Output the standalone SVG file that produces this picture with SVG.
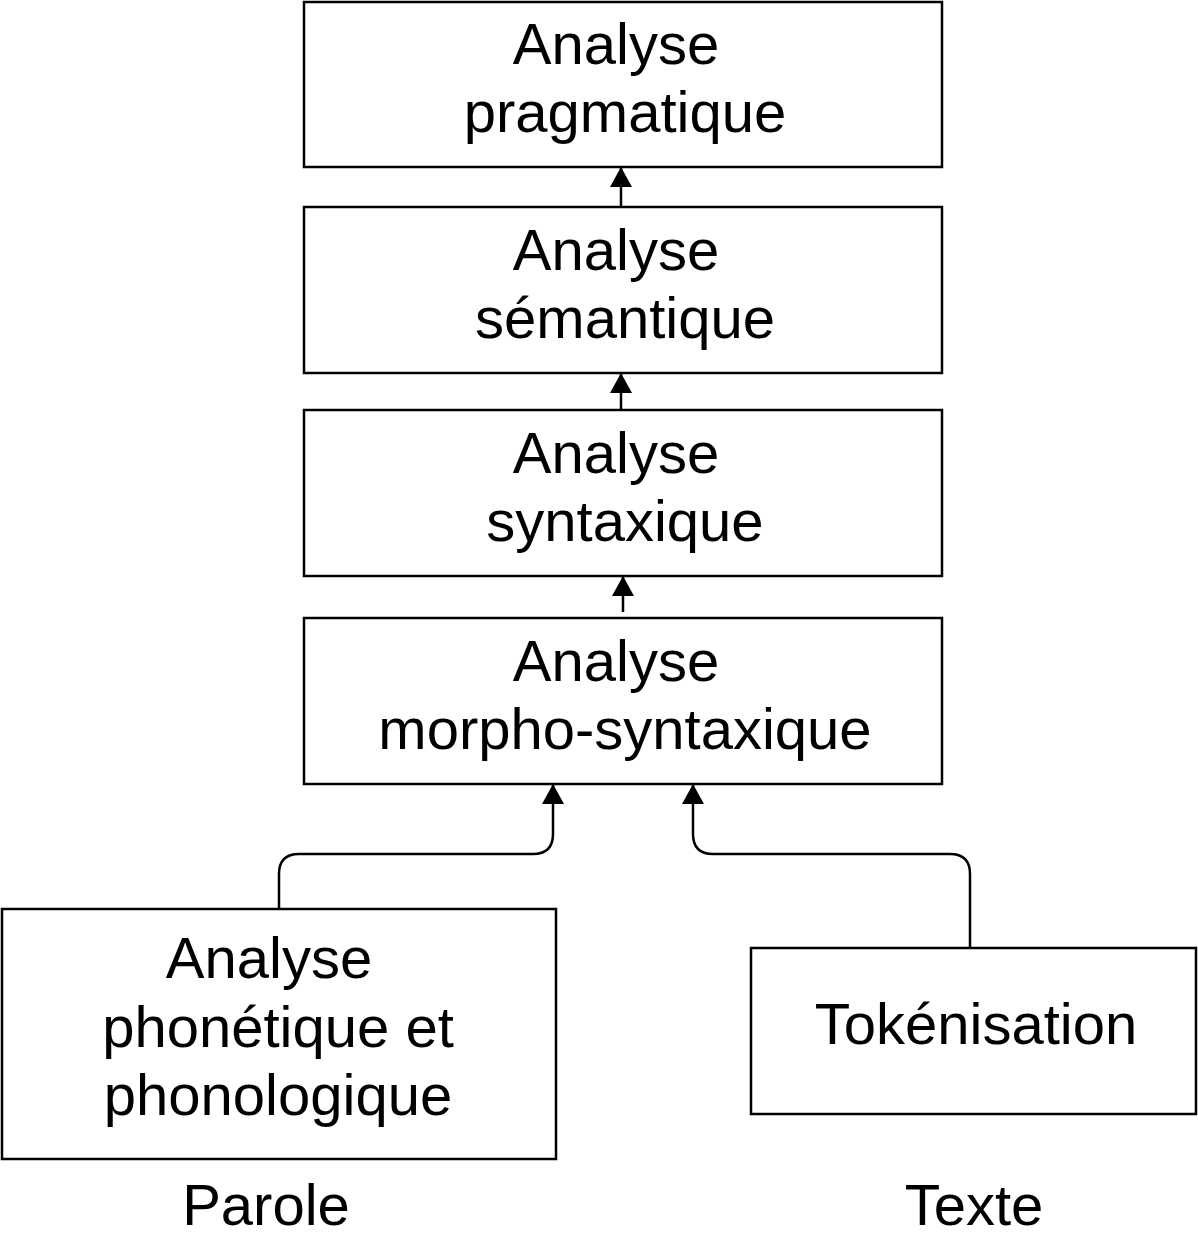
<svg xmlns="http://www.w3.org/2000/svg" width="1198" height="1248" viewBox="0 0 1198 1248">
<style>
.box{fill:#fff;stroke:#000;stroke-width:2.5}
.t{font-family:"Liberation Sans",Arial,Helvetica,sans-serif;font-size:58px;fill:#000;text-anchor:middle}
.c{fill:none;stroke:#000;stroke-width:2.5}
</style>
<defs>
<marker id="ah" markerUnits="userSpaceOnUse" markerWidth="24" markerHeight="24" viewBox="0 0 24 24" refX="20" refY="12" orient="auto">
<path d="M0,1 L20,12 L0,23 Z" fill="#000"/>
</marker>
</defs>
<rect width="1198" height="1248" fill="#fff"/>
<g id="pragmatique">
<rect class="box" x="304" y="2" width="638" height="165"/>
<text class="t" x="616" y="64">Analyse</text>
<text class="t" x="625" y="132">pragmatique</text>
</g>
<g id="semantique">
<rect class="box" x="304" y="207" width="638" height="166"/>
<text class="t" x="616" y="270">Analyse</text>
<text class="t" x="625" y="338">sémantique</text>
</g>
<g id="syntaxique">
<rect class="box" x="304" y="410" width="638" height="166"/>
<text class="t" x="616" y="473">Analyse</text>
<text class="t" x="625" y="541">syntaxique</text>
</g>
<g id="morpho">
<rect class="box" x="304" y="618" width="638" height="166"/>
<text class="t" x="616" y="681">Analyse</text>
<text class="t" x="625" y="749">morpho-syntaxique</text>
</g>
<g id="phonetique">
<rect class="box" x="2" y="909" width="554" height="250"/>
<text class="t" x="269" y="978">Analyse</text>
<text class="t" x="278" y="1047">phonétique et</text>
<text class="t" x="278" y="1115">phonologique</text>
</g>
<g id="tokenisation">
<rect class="box" x="751" y="948" width="445" height="166"/>
<text class="t" x="976" y="1044">Tokénisation</text>
</g>
<g id="labels">
<text class="t" x="266" y="1225">Parole</text>
<text class="t" x="974" y="1225">Texte</text>
</g>
<g id="connectors">
<path class="c" d="M621,207 V167" marker-end="url(#ah)"/>
<path class="c" d="M621,410 V373" marker-end="url(#ah)"/>
<path class="c" d="M623,612 V576" marker-end="url(#ah)"/>
<path class="c" d="M279,909 V874 Q279,854 299,854 H533 Q553,854 553,834 V784" marker-end="url(#ah)"/>
<path class="c" d="M970,948 V874 Q970,854 950,854 H713 Q693,854 693,834 V784" marker-end="url(#ah)"/>
</g>
</svg>
